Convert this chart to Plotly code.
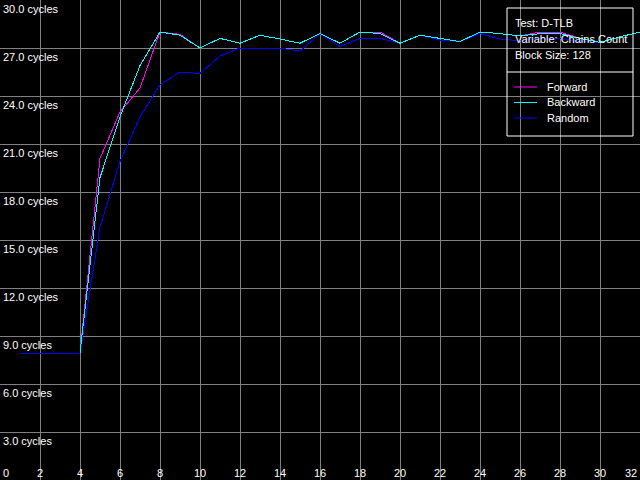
import plotly.graph_objects as go

x_random = list(range(1, 33))
random_vals = [7.92, 7.92, 7.92, 7.92, 15.8, 19.9, 22.7, 24.7, 25.5, 25.4, 26.5, 27.0,
               27.0, 27.0, 26.8, 27.9, 27.1, 27.6, 27.6, 27.3, 27.8, 27.5, 27.4, 27.9,
               27.56, 27.45, 27.6, 27.6, 27.4, 27.35, 27.7, 28.0]
x_fb = list(range(4, 33))
forward_vals = [7.95, 20.1, 23.0, 24.5, 28.0, 27.85, 27.0, 27.6, 27.3, 27.8, 27.56, 27.3,
                27.9, 27.3, 28.0, 28.0, 27.3, 27.8, 27.6, 27.4, 28.0, 27.9, 27.75, 28.0,
                28.0, 27.6, 27.35, 27.7, 28.0]
backward_vals = [7.95, 18.9, 22.7, 25.9, 28.0, 27.8, 27.0, 27.6, 27.3, 27.8, 27.56, 27.3,
                 27.9, 27.3, 28.0, 27.9, 27.3, 27.8, 27.6, 27.4, 28.0, 27.9, 27.75, 27.9,
                 27.9, 27.6, 27.35, 27.7, 28.0]

x_ticks = list(range(0, 33, 2))
y_ticks = [3, 6, 9, 12, 15, 18, 21, 24, 27, 30]
y_tick_labels = [f"{v:.1f} cycles" for v in y_ticks]

series_names = ["Forward", "Backward", "Random"]
series_colors = ["#ff00ff", "#00ffff", "#0000ff"]
info_lines = ["Test: D-TLB", "Variable: Chains Count", "Block Size: 128"]

FONT = dict(family="Liberation Sans, Arial, sans-serif", size=11, color="white")

fig = go.Figure()
fig.add_trace(go.Scatter(x=x_random, y=random_vals, mode="lines",
                         line=dict(color=series_colors[2], width=1), name="Random"))
fig.add_trace(go.Scatter(x=x_fb, y=forward_vals, mode="lines",
                         line=dict(color=series_colors[0], width=1), name="Forward"))
fig.add_trace(go.Scatter(x=x_fb, y=backward_vals, mode="lines",
                         line=dict(color=series_colors[1], width=1), name="Backward"))

annotations = []
for v, lab in zip(y_ticks, y_tick_labels):
    annotations.append(dict(x=0, xref="paper", y=v, yref="y", text=lab, showarrow=False,
                            xanchor="left", yanchor="top", xshift=1, yshift=-1, font=FONT))
for v in x_ticks:
    anchor = "center"
    if v == 0:
        anchor = "left"
    elif v == 32:
        anchor = "right"
    annotations.append(dict(x=v, xref="x", y=0, yref="y", text=str(v), showarrow=False,
                            xanchor=anchor, yanchor="bottom", yshift=-1,
                            xshift=(1 if v == 0 else (-1 if v == 32 else 0)), font=FONT))

W, H = 640, 480
def px(x):
    return x / W
def py(y):
    return 1 - y / H

shapes = [
    dict(type="rect", xref="paper", yref="paper", x0=px(507), x1=px(633), y0=py(136), y1=py(8),
         line=dict(color="white", width=1)),
    dict(type="line", xref="paper", yref="paper", x0=px(507), x1=px(633), y0=py(72), y1=py(72),
         line=dict(color="white", width=1)),
]
for i, t in enumerate(info_lines):
    annotations.append(dict(x=px(513), xref="paper", y=py(23 + 16 * i), yref="paper", text=t,
                            showarrow=False, xanchor="left", yanchor="middle", font=FONT))
for i, (n, c) in enumerate(zip(series_names, series_colors)):
    yy = 87 + 15.5 * i
    shapes.append(dict(type="line", xref="paper", yref="paper", x0=px(514), x1=px(537),
                       y0=py(yy), y1=py(yy), line=dict(color=c, width=1)))
    annotations.append(dict(x=px(545), xref="paper", y=py(yy), yref="paper", text=n,
                            showarrow=False, xanchor="left", yanchor="middle", font=FONT))

fig.update_layout(
    width=W, height=H, margin=dict(l=0, r=0, t=0, b=0, pad=0, autoexpand=False),
    paper_bgcolor="black", plot_bgcolor="black", showlegend=False,
    xaxis=dict(range=[0, 32], tickvals=x_ticks, showticklabels=False, showgrid=True,
               gridcolor="#808080", gridwidth=1, zeroline=False, showline=False, fixedrange=True,
               automargin=False),
    yaxis=dict(range=[0, 30], tickvals=y_ticks, showticklabels=False, showgrid=True,
               gridcolor="#808080", gridwidth=1, zeroline=False, showline=False, fixedrange=True,
               automargin=False),
    annotations=annotations, shapes=shapes,
)
post = (
    "document.body.style.margin='0';document.body.style.background='black';"
    "var s=document.createElement('style');"
    "s.textContent='.scatterlayer path.js-line{shape-rendering:crispEdges;}';"
    "document.head.appendChild(s);"
)
fig.write_html("out.html", config=dict(displayModeBar=False), post_script=post)
